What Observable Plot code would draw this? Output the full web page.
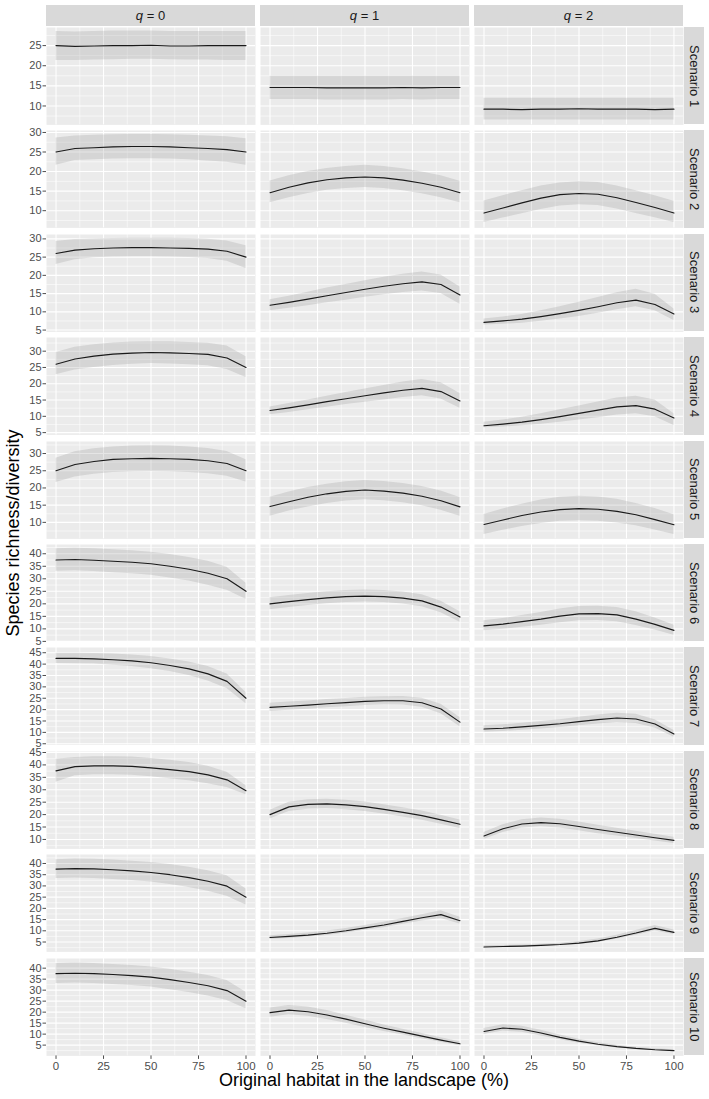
<!DOCTYPE html>
<html><head><meta charset="utf-8">
<script src="https://cdn.jsdelivr.net/npm/d3@7"></script>
<script src="https://cdn.jsdelivr.net/npm/@observablehq/plot@0.6"></script>
<style>
body{margin:0;background:#fff;font-family:"Liberation Sans",Arial,sans-serif;}
#root{position:relative;width:709px;height:1099px;overflow:hidden;background:#fff;}
.row{position:absolute;left:0;}
.row svg{overflow:visible;}
.strip-top{position:absolute;top:5px;height:21px;background:#d9d9d9;color:#1a1a1a;font-size:13px;display:flex;align-items:center;justify-content:center;white-space:pre;}
.strip-right{position:absolute;left:684px;width:20px;background:#d9d9d9;color:#1a1a1a;font-size:13px;display:flex;align-items:center;justify-content:center;}
.strip-right span{writing-mode:vertical-rl;white-space:nowrap;}
.xtitle{position:absolute;left:45px;width:638px;top:1071px;text-align:center;font-size:18px;line-height:18px;color:#000;}
.ytitle{position:absolute;left:-287px;top:523px;width:600px;height:20px;line-height:20px;text-align:center;font-size:18px;color:#000;transform:rotate(-90deg);}
</style></head><body><div id="root"></div>
<script>
// ---------------- data ----------------
const xPct = [0, 10, 20, 30, 40, 50, 60, 70, 80, 90, 100];
const qLevels = ["0", "1", "2"];
const scenarios = ["Scenario 1","Scenario 2","Scenario 3","Scenario 4","Scenario 5","Scenario 6","Scenario 7","Scenario 8","Scenario 9","Scenario 10"];
const xTicks = [0, 25, 50, 75, 100];
const xMinor = [12.5, 37.5, 62.5, 87.5];
const yDomains = [[5.3,29.5],[5.6,30.5],[4.5,31.2],[4.3,34.2],[5.2,33.5],[4.8,43.7],[4.5,47.3],[6.2,45.4],[0.6,44.0],[0.1,44.4]];
const yTickSets = [
  [10,15,20,25],[10,15,20,25,30],[5,10,15,20,25,30],[5,10,15,20,25,30],[10,15,20,25,30],
  [5,10,15,20,25,30,35,40],[5,10,15,20,25,30,35,40,45],[10,15,20,25,30,35,40,45],
  [5,10,15,20,25,30,35,40],[5,10,15,20,25,30,35,40]
];

// q = 0
const meanQ0 = [
  [25.0,24.8,24.9,25.0,25.0,25.1,24.9,24.9,25.0,25.0,25.0],
  [25.0,25.9,26.1,26.3,26.4,26.4,26.3,26.1,25.9,25.6,25.0],
  [26.0,26.9,27.3,27.5,27.6,27.6,27.5,27.4,27.2,26.6,25.0],
  [26.0,27.6,28.5,29.1,29.4,29.6,29.5,29.3,29.0,27.9,25.0],
  [25.0,26.8,27.7,28.3,28.5,28.6,28.5,28.3,27.9,27.1,25.0],
  [37.5,37.7,37.4,37.0,36.6,36.0,35.0,33.8,32.2,30.0,25.0],
  [42.5,42.5,42.3,41.9,41.4,40.6,39.4,37.9,35.7,32.4,25.0],
  [37.6,39.3,39.6,39.6,39.4,38.8,38.1,37.3,36.0,34.0,29.6],
  [37.5,37.7,37.6,37.2,36.7,36.0,35.0,33.7,32.1,29.9,25.0],
  [37.5,37.7,37.5,37.1,36.6,35.9,34.8,33.5,32.0,29.8,25.0]
];
const lowQ0 = [
  [21.3,21.3,21.4,21.5,21.6,21.6,21.5,21.4,21.4,21.3,21.3],
  [21.6,22.8,23.0,23.2,23.3,23.3,23.2,23.0,22.7,22.4,21.6],
  [23.0,24.3,24.8,25.0,25.1,25.1,25.0,24.9,24.6,23.9,21.9],
  [22.8,24.2,25.0,25.6,26.0,26.2,26.1,25.8,25.5,24.4,21.9],
  [21.6,23.2,24.0,24.5,24.7,24.8,24.7,24.5,24.1,23.4,21.7],
  [33.0,33.2,32.9,32.4,32.0,31.4,30.3,29.1,27.4,25.4,21.8],
  [40.3,40.2,40.0,39.5,38.9,38.0,36.7,35.0,32.6,29.3,22.6],
  [33.0,35.6,36.0,36.0,35.8,35.2,34.4,33.6,32.4,30.9,28.0],
  [33.3,33.5,33.3,32.9,32.4,31.7,30.6,29.3,27.6,25.4,21.5],
  [33.0,33.2,33.0,32.6,32.1,31.4,30.2,28.9,27.3,25.3,21.6]
];
const highQ0 = [
  [28.5,28.4,28.5,28.6,28.6,28.6,28.5,28.5,28.5,28.5,28.5],
  [28.6,29.1,29.3,29.4,29.5,29.5,29.4,29.3,29.1,28.9,28.4],
  [29.3,29.8,30.0,30.1,30.2,30.2,30.2,30.1,29.9,29.4,28.1],
  [29.6,31.2,32.0,32.5,32.8,32.9,32.9,32.7,32.4,31.6,28.3],
  [28.6,30.5,31.4,31.9,32.2,32.3,32.2,31.9,31.5,30.6,28.2],
  [42.0,42.2,42.0,41.6,41.2,40.6,39.7,38.5,37.0,34.6,28.2],
  [44.8,44.8,44.7,44.4,44.0,43.3,42.3,40.9,38.9,35.6,27.5],
  [42.3,43.0,43.3,43.3,43.2,42.6,41.9,41.0,39.5,37.0,31.6],
  [41.7,42.0,41.9,41.5,41.0,40.4,39.5,38.3,36.8,34.5,28.6],
  [42.1,42.3,42.1,41.7,41.2,40.5,39.5,38.2,36.7,34.4,29.0]
];

// q = 1
const meanQ1 = [
  [14.6,14.6,14.6,14.5,14.5,14.5,14.5,14.6,14.5,14.6,14.6],
  [14.6,16.0,17.1,17.9,18.4,18.6,18.4,17.8,17.0,16.0,14.6],
  [11.8,12.6,13.5,14.4,15.3,16.2,17.0,17.7,18.2,17.5,14.6],
  [11.8,12.6,13.5,14.5,15.4,16.3,17.2,18.0,18.6,17.6,14.7],
  [14.6,16.0,17.3,18.3,19.0,19.4,19.1,18.5,17.6,16.3,14.5],
  [20.0,20.9,21.7,22.4,22.9,23.1,22.9,22.3,21.2,18.7,14.7],
  [21.0,21.5,22.0,22.6,23.1,23.6,23.9,23.9,23.0,20.3,14.5],
  [20.0,23.1,24.1,24.3,23.9,23.2,22.1,20.9,19.6,17.9,16.1],
  [7.0,7.5,8.1,8.9,10.0,11.3,12.6,14.2,15.8,17.2,14.5],
  [19.8,20.9,20.2,18.7,16.8,14.7,12.7,10.9,9.1,7.3,5.6]
];
const lowQ1 = [
  [11.6,11.6,11.6,11.5,11.5,11.5,11.5,11.6,11.5,11.6,11.6],
  [12.0,13.3,14.4,15.2,15.7,15.9,15.7,15.1,14.3,13.3,12.0],
  [10.3,11.0,11.7,12.5,13.2,14.0,14.7,15.3,15.7,15.0,12.1],
  [10.5,11.2,12.0,12.8,13.6,14.3,15.0,15.8,16.3,15.3,12.5],
  [11.8,13.3,14.5,15.5,16.2,16.6,16.3,15.7,14.8,13.5,11.8],
  [17.6,18.5,19.3,20.0,20.5,20.7,20.5,19.9,18.8,16.4,12.6],
  [19.2,19.7,20.2,20.8,21.3,21.8,22.1,22.0,21.0,18.2,12.5],
  [18.2,21.2,22.2,22.4,22.0,21.3,20.2,19.0,17.7,16.1,14.4],
  [6.2,6.6,7.2,7.9,9.0,10.2,11.4,12.9,14.4,15.5,13.0],
  [17.7,18.8,18.1,16.7,15.0,13.0,11.2,9.6,7.9,6.3,4.7]
];
const highQ1 = [
  [17.4,17.4,17.4,17.4,17.4,17.4,17.4,17.4,17.4,17.4,17.4],
  [17.6,18.9,20.0,20.8,21.3,21.6,21.3,20.7,19.9,18.9,17.5],
  [13.3,14.3,15.4,16.5,17.5,18.5,19.5,20.3,20.9,20.1,16.8],
  [12.9,13.9,15.0,16.2,17.3,18.4,19.5,20.5,21.3,20.3,17.0],
  [17.3,18.8,20.1,21.1,21.8,22.2,21.9,21.3,20.4,19.1,17.2],
  [22.4,23.3,24.1,24.8,25.3,25.5,25.3,24.7,23.6,21.0,16.8],
  [22.8,23.3,23.8,24.4,24.9,25.4,25.7,25.8,25.0,22.4,16.5],
  [21.8,25.0,26.0,26.2,25.8,25.1,24.0,22.8,21.5,19.7,17.8],
  [7.8,8.4,9.0,9.9,11.0,12.4,13.8,15.5,17.2,18.9,16.0],
  [21.9,23.0,22.3,20.7,18.6,16.4,14.2,12.2,10.3,8.3,6.5]
];

// q = 2
const meanQ2 = [
  [9.2,9.2,9.1,9.2,9.2,9.3,9.2,9.2,9.2,9.1,9.2],
  [9.4,10.7,12.0,13.2,14.1,14.4,14.2,13.3,12.1,10.8,9.4],
  [7.1,7.5,8.0,8.7,9.5,10.4,11.4,12.5,13.2,12.0,9.4],
  [7.1,7.6,8.2,9.0,9.9,10.9,11.9,12.9,13.3,12.2,9.5],
  [9.4,10.7,12.0,13.0,13.7,14.0,13.8,13.2,12.2,10.8,9.3],
  [11.2,11.9,12.9,13.9,15.1,16.0,16.1,15.6,13.9,11.8,9.4],
  [11.5,11.8,12.4,13.1,13.8,14.7,15.6,16.3,15.9,13.7,9.3],
  [11.4,14.3,16.2,16.8,16.3,15.2,14.0,12.9,11.8,10.7,9.6],
  [2.8,3.0,3.2,3.5,3.9,4.5,5.5,7.1,9.0,11.1,9.3],
  [11.2,12.8,12.2,10.5,8.5,6.8,5.4,4.3,3.5,2.9,2.5]
];
const lowQ2 = [
  [6.5,6.5,6.5,6.5,6.5,6.5,6.5,6.5,6.5,6.5,6.5],
  [7.0,8.1,9.2,10.3,11.2,11.5,11.3,10.4,9.3,8.2,7.0],
  [6.4,6.6,6.9,7.4,8.0,8.7,9.6,10.6,11.4,10.3,7.6],
  [6.5,6.7,7.1,7.6,8.2,8.9,9.6,10.4,10.8,9.9,7.2],
  [6.5,7.7,8.8,9.7,10.3,10.5,10.3,9.8,9.0,7.8,6.5],
  [9.3,9.8,10.6,11.4,12.4,13.2,13.3,12.8,11.3,9.5,7.5],
  [10.1,10.4,10.9,11.5,12.1,12.9,13.7,14.3,13.9,11.9,7.9],
  [10.0,12.8,14.6,15.1,14.6,13.5,12.3,11.4,10.4,9.4,8.4],
  [2.4,2.5,2.7,3.0,3.4,3.9,4.8,6.3,8.0,9.9,8.3],
  [9.8,11.4,10.8,9.2,7.4,5.9,4.7,3.7,3.0,2.5,2.1]
];
const highQ2 = [
  [11.9,11.9,11.9,11.9,11.9,11.9,11.9,11.9,11.9,11.9,11.9],
  [12.5,13.8,15.1,16.3,17.1,17.4,17.2,16.3,15.1,13.8,12.4],
  [8.0,8.6,9.3,10.3,11.4,12.6,13.9,15.2,16.2,14.8,10.8],
  [8.2,8.9,9.7,10.8,12.0,13.2,14.4,15.6,16.2,15.0,10.8],
  [12.3,13.9,15.3,16.5,17.3,17.6,17.4,16.7,15.5,14.0,12.2],
  [13.2,14.1,15.3,16.5,17.9,18.9,19.0,18.5,16.8,14.3,11.4],
  [12.9,13.3,14.0,14.8,15.6,16.6,17.6,18.4,18.0,15.6,10.8],
  [12.8,15.9,17.9,18.6,18.1,17.0,15.7,14.5,13.3,12.1,10.9],
  [3.3,3.5,3.7,4.0,4.5,5.2,6.3,8.0,10.1,12.4,10.4],
  [12.6,14.3,13.6,11.8,9.6,7.7,6.1,4.9,4.0,3.3,2.9]
];

// ---------------- build ----------------
const series = {"0": [meanQ0, lowQ0, highQ0], "1": [meanQ1, lowQ1, highQ1], "2": [meanQ2, lowQ2, highQ2]};
const root = document.getElementById("root");
const ROW_TOP = 27, ROW_STEP = 103.4, ROW_H = 97.4, AXIS_H = 30, PAD = 8;

scenarios.forEach((scen, r) => {
  const rows = [];
  for (const q of qLevels) {
    const [m, lo, hi] = series[q];
    xPct.forEach((x, i) => rows.push({q, x, mean: m[r][i], lo: lo[r][i], hi: hi[r][i]}));
  }
  const dom = yDomains[r];
  const yt = yTickSets[r];
  const yMinor = yt.map(v => v - 2.5).concat([yt[yt.length - 1] + 2.5]).filter(v => v > dom[0] && v < dom[1]);
  const last = r === scenarios.length - 1;
  const marks = [
    Plot.frame({fill: "#ebebeb", stroke: "none"}),
    Plot.ruleY(yMinor, {stroke: "white", strokeWidth: 0.55}),
    Plot.ruleX(xMinor, {stroke: "white", strokeWidth: 0.55}),
    Plot.ruleY(yt, {stroke: "white", strokeWidth: 1.1}),
    Plot.ruleX(xTicks, {stroke: "white", strokeWidth: 1.1}),
    Plot.areaY(rows, {fx: "q", x: "x", y1: "lo", y2: "hi", fill: "#7f7f7f", fillOpacity: 0.2}),
    Plot.lineY(rows, {fx: "q", x: "x", y: "mean", stroke: "#1a1a1a", strokeWidth: 1.15}),
    Plot.axisY(yt, {anchor: "left", tickSize: 3.5, tickPadding: 1.5, fontSize: 11, label: null, tickFormat: d => String(d)})
  ];
  if (last) marks.push(Plot.axisX(xTicks, {anchor: "bottom", tickSize: 3.5, tickPadding: 2, fontSize: 11.5, label: null, tickFormat: d => String(d)}));
  const plot = Plot.plot({
    width: 709,
    height: ROW_H + 2 * PAD + (last ? AXIS_H : 0),
    marginLeft: 45, marginRight: 26, marginTop: PAD, marginBottom: PAD + (last ? AXIS_H : 0),
    style: {fontFamily: "'Liberation Sans', Arial, sans-serif", color: "#4d4d4d", background: "transparent", overflow: "visible"},
    x: last ? {domain: [-5, 105]} : {domain: [-5, 105], axis: null},
    y: {domain: dom},
    fx: {domain: qLevels, paddingInner: 0.0256, paddingOuter: 0, axis: null, label: null},
    marks
  });
  const wrap = document.createElement("div");
  wrap.className = "row";
  wrap.style.top = (ROW_TOP + r * ROW_STEP - PAD) + "px";
  wrap.appendChild(plot);
  root.appendChild(wrap);

  // right strip
  const rs = document.createElement("div");
  rs.className = "strip-right";
  rs.style.top = (ROW_TOP + r * ROW_STEP) + "px";
  rs.style.height = ROW_H + "px";
  const sp = document.createElement("span");
  sp.textContent = scen;
  rs.appendChild(sp);
  root.appendChild(rs);

  if (r === 0) {
    const fx = plot.scale("fx");
    for (const q of qLevels) {
      const st = document.createElement("div");
      st.className = "strip-top";
      st.style.left = fx.apply(q) + "px";
      st.style.width = fx.bandwidth + "px";
      st.innerHTML = "<i>q</i> = " + q;
      root.appendChild(st);
    }
  }
});

const xt = document.createElement("div");
xt.className = "xtitle";
xt.textContent = "Original habitat in the landscape (%)";
root.appendChild(xt);
const ytl = document.createElement("div");
ytl.className = "ytitle";
ytl.textContent = "Species richness/diversity";
root.appendChild(ytl);
</script></body></html>
